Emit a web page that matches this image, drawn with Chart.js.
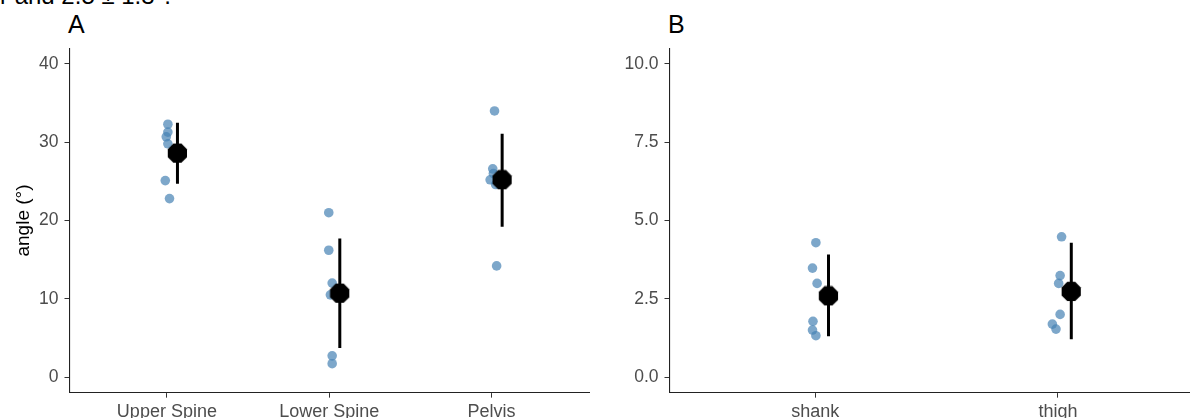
<!DOCTYPE html>
<html>
<head>
<meta charset="utf-8">
<script src="https://cdn.jsdelivr.net/npm/chart.js@4.4.0/dist/chart.umd.min.js"></script>
<style>
    html, body { margin: 0; padding: 0; background: #fff; }
    body { width: 1190px; height: 418px; overflow: hidden; position: relative; font-family: "Liberation Sans", Arial, sans-serif; }
    .panel { position: absolute; top: 0; }
    #panelA { left: 0; }
    #panelB { left: 600px; }
    .tag { position: absolute; top: 11.7px; font-size: 25px; line-height: 1; color: #000; }
    #cutText { position: absolute; left: 0; top: -16.5px; font-size: 24px; line-height: 1; white-space: nowrap; color: #000; }
</style>
</head>
<body>
<div id="cutText">r and 2.5 ± 1.3°.</div>
<div class="tag" style="left:68px">A</div>
<div class="tag" style="left:668px">B</div>
<div class="panel" id="panelA"><canvas id="chartA" width="600" height="440"></canvas></div>
<div class="panel" id="panelB"><canvas id="chartB" width="620" height="440"></canvas></div>

<script>
// panel A: trunk segments
const categoriesA = ['Upper Spine', 'Lower Spine', 'Pelvis'];
const upperSpine = [32.3, 31.3, 30.7, 29.8, 25.1, 22.8];
const lowerSpine = [21.0, 16.2, 12.0, 10.5, 2.7, 1.7];
const pelvis = [34.0, 26.6, 26.0, 25.2, 24.6, 14.2];
// horizontal jitter of each point, in category units
const upperSpineJitter = [0.006, 0.006, -0.004, 0.006, -0.01, 0.016];
const lowerSpineJitter = [-0.003, -0.003, 0.018, 0.007, 0.018, 0.018];
const pelvisJitter = [0.018, 0.007, 0.011, -0.009, 0.025, 0.031];
const meanA = [28.6, 10.7, 25.2];
const lowA = [24.7, 3.7, 19.2];
const highA = [32.5, 17.7, 31.1];
const ticksA = [0, 10, 20, 30, 40];

// panel B: leg segments
const categoriesB = ['shank', 'thigh'];
const shank = [4.29, 3.48, 2.99, 1.78, 1.50, 1.32];
const thigh = [4.48, 3.24, 2.99, 2.00, 1.69, 1.53];
const shankJitter = [0.003, -0.011, 0.008, -0.009, -0.011, 0.003];
const thighJitter = [0.015, 0.009, 0.003, 0.009, -0.023, -0.008];
const meanB = [2.59, 2.73];
const lowB = [1.30, 1.21];
const highB = [3.91, 4.29];
const ticksB = [0, 2.5, 5, 7.5, 10];

const FONT = '"Liberation Sans", Arial, sans-serif';
const POINT_COLOR = 'rgba(70, 130, 180, 0.7)';

// ggplot draws big points as a slightly faceted disc
function octagon(r) {
    const c = document.createElement('canvas');
    c.width = c.height = Math.ceil(r * 2);
    const g = c.getContext('2d');
    g.fillStyle = '#000';
    g.beginPath();
    for (let k = 0; k < 8; k++) {
        const a = Math.PI / 8 + k * Math.PI / 4;
        g.lineTo(r + r * Math.cos(a), r + r * Math.sin(a));
    }
    g.closePath();
    g.fill();
    return c;
}

function buildPanel(canvasId, cfg) {
    const ctx = document.getElementById(canvasId);
    const points = [];
    cfg.groups.forEach((vals, i) => {
        vals.forEach((v, j) => points.push({ x: i + 1 + cfg.jitter[i][j], y: v }));
    });
    const bars = [];
    const means = [];
    cfg.means.forEach((m, i) => {
        const x = i + 1 + cfg.nudge;
        bars.push({ x: x, y: cfg.lows[i] }, { x: x, y: cfg.highs[i] }, { x: x, y: null });
        means.push({ x: x, y: m });
    });

    return new Chart(ctx, {
        type: 'scatter',
        data: {
            datasets: [
                {
                    // drawn last (on top)
                    data: means,
                    pointStyle: octagon(10.4),
                    pointRadius: 10
                },
                {
                    type: 'line',
                    data: bars,
                    showLine: true,
                    spanGaps: false,
                    borderColor: '#000',
                    borderWidth: 3,
                    pointRadius: 0
                },
                {
                    data: points,
                    pointRadius: 4.8,
                    pointBackgroundColor: POINT_COLOR,
                    pointBorderWidth: 0
                }
            ]
        },
        options: {
            responsive: false,
            animation: false,
            layout: {
                padding: { top: 48.35, right: cfg.padRight, left: 0, bottom: 0 }
            },
            plugins: {
                legend: { display: false },
                tooltip: { enabled: false }
            },
            scales: {
                x: {
                    type: 'linear',
                    min: 0.4,
                    max: cfg.categories.length + 0.6,
                    afterBuildTicks: (axis) => {
                        axis.ticks = cfg.categories.map((c, i) => ({ value: i + 1 }));
                    },
                    afterFit: (axis) => { axis.height = 47.35; },
                    grid: { drawOnChartArea: false, drawTicks: true, tickLength: 5, color: '#333' },
                    border: { display: true, color: '#222', width: 1.1 },
                    ticks: {
                        autoSkip: false,
                        maxRotation: 0,
                        padding: 4,
                        color: '#4d4d4d',
                        font: { family: FONT, size: 18 },
                        callback: (v) => cfg.categories[v - 1]
                    }
                },
                y: {
                    min: cfg.yMin,
                    max: cfg.yMax,
                    afterBuildTicks: (axis) => {
                        axis.ticks = cfg.yTicks.map(v => ({ value: v }));
                    },
                    afterFit: (axis) => { axis.width = 69.5; },
                    grid: { drawOnChartArea: false, drawTicks: true, tickLength: 5, color: '#333' },
                    border: { display: true, color: '#222', width: 1.1 },
                    ticks: {
                        padding: 6,
                        color: '#4d4d4d',
                        font: { family: FONT, size: 17.5 },
                        callback: cfg.format
                    },
                    title: {
                        display: cfg.yTitle !== '',
                        text: cfg.yTitle,
                        color: '#000',
                        font: { family: FONT, size: 19 },
                        padding: { top: 12, bottom: 0 }
                    }
                }
            }
        }
    });
}

buildPanel('chartA', {
    categories: categoriesA,
    groups: [upperSpine, lowerSpine, pelvis],
    jitter: [upperSpineJitter, lowerSpineJitter, pelvisJitter],
    means: meanA, lows: lowA, highs: highA,
    nudge: 0.065,
    yMin: -2, yMax: 42, yTicks: ticksA,
    format: (v) => String(v),
    yTitle: 'angle (°)',
    padRight: 0.9
});

buildPanel('chartB', {
    categories: categoriesB,
    groups: [shank, thigh],
    jitter: [shankJitter, thighJitter],
    means: meanB, lows: lowB, highs: highB,
    nudge: 0.055,
    yMin: -0.5, yMax: 10.5, yTicks: ticksB,
    format: (v) => v.toFixed(1),
    yTitle: '',
    padRight: 16.4
});
</script>
</body>
</html>
